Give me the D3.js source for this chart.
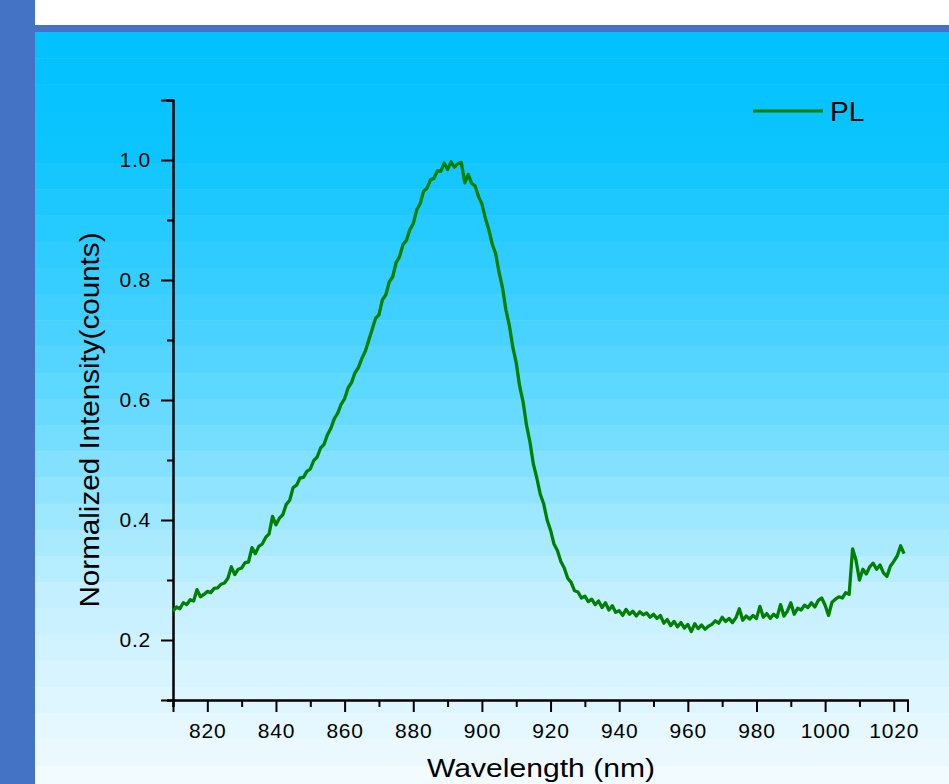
<!DOCTYPE html>
<html>
<head>
<meta charset="utf-8">
<script src="https://cdn.jsdelivr.net/npm/d3@7"></script>
<style>
  body { margin: 0; background: #fff; }
  text { font-family: Arial, "Liberation Sans", sans-serif; fill: #000; }
</style>
</head>
<body>
<div class="chart"></div>
<script>
"use strict"

// PL spectrum, one sample per nm from 810 nm
const wavelength = d3.range(810, 1024);
const intensity = [
  0.248, 0.255, 0.252, 0.262, 0.259, 0.267, 0.265, 0.284, 0.272, 0.276,
  0.281, 0.279, 0.286, 0.287, 0.293, 0.295, 0.303, 0.322, 0.309, 0.318,
  0.320, 0.329, 0.330, 0.354, 0.344, 0.356, 0.360, 0.371, 0.377, 0.406,
  0.392, 0.403, 0.409, 0.426, 0.433, 0.454, 0.458, 0.470, 0.471, 0.481,
  0.485, 0.499, 0.505, 0.520, 0.526, 0.542, 0.553, 0.569, 0.578, 0.593,
  0.602, 0.620, 0.629, 0.645, 0.654, 0.669, 0.681, 0.699, 0.717, 0.736,
  0.742, 0.767, 0.775, 0.797, 0.805, 0.829, 0.839, 0.859, 0.866, 0.884,
  0.894, 0.917, 0.927, 0.948, 0.953, 0.967, 0.969, 0.982, 0.981, 0.995,
  0.984, 0.997, 0.988, 0.994, 0.996, 0.962, 0.976, 0.961, 0.957, 0.939,
  0.927, 0.903, 0.884, 0.860, 0.844, 0.813, 0.787, 0.750, 0.724, 0.688,
  0.662, 0.623, 0.597, 0.558, 0.530, 0.493, 0.470, 0.443, 0.427, 0.400,
  0.383, 0.360, 0.349, 0.331, 0.320, 0.303, 0.296, 0.282, 0.280, 0.270,
  0.273, 0.264, 0.268, 0.259, 0.265, 0.254, 0.262, 0.250, 0.257, 0.246,
  0.249, 0.241, 0.251, 0.243, 0.248, 0.240, 0.247, 0.242, 0.245, 0.238,
  0.243, 0.236, 0.241, 0.228, 0.234, 0.224, 0.231, 0.222, 0.229, 0.220,
  0.226, 0.214, 0.227, 0.219, 0.225, 0.218, 0.223, 0.226, 0.232, 0.228,
  0.238, 0.231, 0.236, 0.229, 0.237, 0.252, 0.233, 0.240, 0.235, 0.241,
  0.236, 0.256, 0.238, 0.244, 0.236, 0.243, 0.238, 0.259, 0.240, 0.248,
  0.262, 0.243, 0.253, 0.250, 0.258, 0.254, 0.262, 0.255, 0.266, 0.270,
  0.258, 0.241, 0.263, 0.268, 0.272, 0.270, 0.279, 0.276, 0.352, 0.333,
  0.300, 0.318, 0.310, 0.322, 0.328, 0.318, 0.325, 0.312, 0.306, 0.323,
  0.331, 0.340, 0.357, 0.344
];

const xMajor = [820, 840, 860, 880, 900, 920, 940, 960, 980, 1000, 1020];
const xMinor = [810, 830, 850, 870, 890, 910, 930, 950, 970, 990, 1010];
const yMajor = [0.2, 0.4, 0.6, 0.8, 1.0];
const yMinor = [0.1, 0.3, 0.5, 0.7, 0.9, 1.1];
const seriesName = "PL";

const W = 949, H = 784;

let svg = d3.select(".chart")
  .append("svg")
  .attr("width", W)
  .attr("height", H);

// slide background: white top, blue bars, banded sky gradient
svg.append("rect").attr("width", W).attr("height", H).attr("fill", "#fff");

let bandTop = 32, bandH = 26.2;
let skyStops = [[32, "#00c1ff"], [150, "#0cc5ff"], [300, "#3ccfff"], [400, "#62d9ff"],
                [500, "#95e5ff"], [600, "#c5f0ff"], [784, "#f3fbff"]];
let sky = d3.scaleLinear()
  .domain(skyStops.map(s => s[0]))
  .range(skyStops.map(s => s[1]))
  .interpolate(d3.interpolateRgb);
let bands = d3.range(bandTop, H, bandH);
svg.selectAll("rect.band")
  .data(bands)
  .enter()
  .append("rect")
  .attr("class", "band")
  .attr("x", 35)
  .attr("y", d => d)
  .attr("width", W - 35)
  .attr("height", bandH + 0.5)
  .attr("fill", d => sky(d + bandH / 2));

svg.append("rect").attr("x", 35).attr("y", 25).attr("width", W - 35).attr("height", 7).attr("fill", "#4472c4");
svg.append("rect").attr("x", 0).attr("y", 0).attr("width", 35).attr("height", H).attr("fill", "#4472c4");

// scales
let x = d3.scaleLinear().domain([810, 1024]).range([173, 907.5]);
let y = d3.scaleLinear().domain([0.1, 1.1]).range([700, 100]);

// x axis
let gx = svg.append("g").attr("transform", "translate(0,700)");
gx.call(d3.axisBottom(x).tickValues(xMajor).tickSize(12).tickPadding(11).tickFormat(d3.format("d")));
gx.append("g").call(d3.axisBottom(x).tickValues(xMinor).tickSize(7).tickFormat(""));
gx.selectAll(".domain").attr("stroke-width", 2).attr("stroke", "#000");
gx.selectAll(".tick line").attr("stroke-width", 2).attr("stroke", "#000");
gx.selectAll(".tick text")
  .attr("font-size", 21)
  .attr("letter-spacing", 0.8)
  .attr("font-family", "Arial, 'Liberation Sans', sans-serif")
  .attr("fill", "#000");

// y axis
let gy = svg.append("g").attr("transform", "translate(173,0)");
gy.call(d3.axisLeft(y).tickValues(yMajor).tickSize(12).tickPadding(10).tickFormat(d3.format(".1f")));
gy.append("g").call(d3.axisLeft(y).tickValues(yMinor).tickSize(6).tickFormat(""));
gy.selectAll(".domain").attr("stroke-width", 2).attr("stroke", "#000");
gy.selectAll(".tick line").attr("stroke-width", 2).attr("stroke", "#000");
gy.selectAll(".tick text")
  .attr("font-size", 21)
  .attr("letter-spacing", 0.8)
  .attr("font-family", "Arial, 'Liberation Sans', sans-serif")
  .attr("fill", "#000");

// the spectrum
let line = d3.line()
  .x((d, i) => x(wavelength[i]))
  .y(d => y(d));

svg.append("path")
  .datum(intensity)
  .attr("fill", "none")
  .attr("stroke", "#008000")
  .attr("stroke-width", 3.3)
  .attr("stroke-linejoin", "round")
  .attr("d", line);

// axis titles
svg.append("text")
  .attr("x", 541)
  .attr("y", 777)
  .attr("text-anchor", "middle")
  .attr("font-size", 25)
  .attr("textLength", 228)
  .attr("lengthAdjust", "spacingAndGlyphs")
  .text("Wavelength (nm)");

svg.append("text")
  .attr("transform", "translate(99,420) rotate(-90)")
  .attr("text-anchor", "middle")
  .attr("font-size", 27)
  .attr("textLength", 375)
  .attr("lengthAdjust", "spacingAndGlyphs")
  .text("Normalized Intensity(counts)");

// legend
svg.append("line")
  .attr("x1", 753).attr("x2", 823)
  .attr("y1", 111).attr("y2", 111)
  .attr("stroke", "#008000")
  .attr("stroke-width", 3);
svg.append("text")
  .attr("x", 830)
  .attr("y", 121)
  .attr("font-size", 28)
  .text(seriesName);
</script>
</body>
</html>
